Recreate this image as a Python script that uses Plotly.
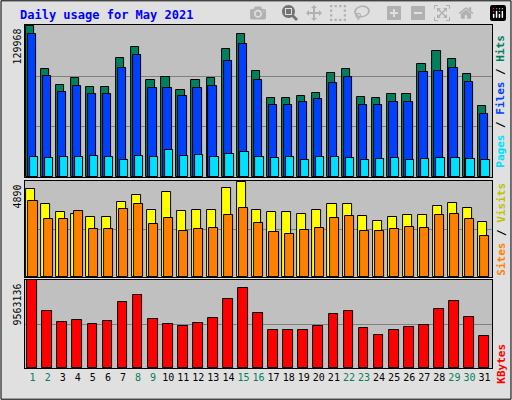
import plotly.graph_objects as go

days = list(range(1, 32))
hits = [129968, 93100, 79000, 85100, 77300, 77300, 101900, 111500, 83400, 86000, 74600, 83400, 85100, 109800, 122900, 91400, 67600, 67600, 69400, 72000, 89500, 93100, 68500, 67600, 71100, 71100, 97500, 108000, 101000, 88600, 60600]
files = [122900, 86900, 72900, 78100, 71100, 71100, 94000, 104500, 76400, 76400, 69400, 76400, 78100, 100100, 114200, 83400, 62300, 61500, 64100, 66700, 80800, 86000, 62300, 62300, 64100, 64100, 90400, 91300, 94000, 81700, 54400]
pages = [17000, 16500, 17000, 17000, 18000, 17000, 15000, 18000, 17000, 22800, 18000, 18500, 17500, 20000, 21100, 17000, 16000, 17000, 15000, 17000, 17000, 16000, 15000, 15500, 16500, 15000, 15500, 16500, 16000, 15500, 14500]
visits = [4525, 3745, 3330, 3225, 3070, 3070, 3850, 4215, 3435, 4370, 3380, 3435, 3435, 4580, 4840, 3435, 3330, 3330, 3225, 3435, 3745, 3745, 3120, 2860, 3070, 3175, 3175, 3640, 3800, 3540, 2810]
sites = [3900, 2965, 2965, 3380, 2445, 2445, 3485, 3745, 2705, 3015, 2340, 2445, 2500, 3175, 3540, 2755, 2290, 2185, 2395, 2500, 3015, 3120, 2340, 2340, 2445, 2550, 2500, 3175, 3225, 2965, 2080]
kbytes = [9563136, 6261600, 5009300, 5237000, 4781600, 5123100, 7172400, 7969300, 5350800, 4781600, 4553900, 4895400, 5464700, 7513900, 8766200, 6033900, 4098500, 4098500, 4098500, 4553900, 5920000, 6261600, 4326200, 3643100, 4098500, 4440000, 4667700, 6489300, 7286200, 5578500, 3529300]
weekend = {1, 2, 8, 9, 15, 16, 22, 23, 29, 30}

FONT = "DejaVu Sans Mono"
fig = go.Figure()

def bar(y, color, xa, ya, off, w):
    fig.add_trace(go.Bar(x=days, y=y, marker=dict(color=color, line=dict(color="black", width=1)),
                         offset=off, width=w, xaxis=xa, yaxis=ya, showlegend=False))

bar(hits, "#00805C", "x", "y", -0.45, 0.55)
bar(files, "#0040FF", "x", "y", -0.32, 0.55)
bar(pages, "#00E0FF", "x", "y", -0.2, 0.55)
bar(visits, "#FFFF00", "x2", "y2", -0.42, 0.6)
bar(sites, "#FF8000", "x2", "y2", -0.27, 0.6)
bar(kbytes, "#FF0000", "x3", "y3", -0.35, 0.65)

xd = [0.049, 0.961]
ticktext = [f"<span style='color:{'#00805C' if d in weekend else 'black'}'>{d}</span>" for d in days]

def yax(mx, dom, n):
    vals = [mx * i / n for i in range(1, n)]
    return dict(domain=dom, range=[0, mx * 1.005], tickvals=vals, showticklabels=False,
                gridcolor="#808080", showline=True, linecolor="black", mirror=True,
                zeroline=False, ticks="")

xcommon = dict(range=[0.5, 31.5], showline=True, linecolor="black", mirror=True, showgrid=False,
               tickvals=days, domain=xd, tickfont=dict(family=FONT, size=10), ticks="")

doms = [[0.5575, 0.9375], [0.3075, 0.5475], [0.08, 0.30]]
fig.update_layout(
    width=512, height=400, margin=dict(l=0, r=0, t=0, b=0),
    paper_bgcolor="#E0E0E0", plot_bgcolor="#C0C0C0", barmode="overlay", bargap=0,
    xaxis=dict(**xcommon, anchor="y", showticklabels=False),
    xaxis2=dict(**xcommon, anchor="y2", showticklabels=False),
    xaxis3=dict(**xcommon, anchor="y3", ticktext=ticktext),
    yaxis=dict(**yax(129968, doms[0], 3), anchor="x"),
    yaxis2=dict(**yax(4890, doms[1], 2), anchor="x2"),
    yaxis3=dict(**yax(9563136, doms[2], 2), anchor="x3"),
    shapes=[dict(type="rect", xref="paper", yref="paper", x0=0.002, y0=0.002, x1=0.998, y1=0.998,
                 line=dict(color="black", width=1))],
)

for mx, dom in zip([129968, 4890, 9563136], doms):
    fig.add_annotation(text=str(mx), x=0.047, y=dom[1] - 0.005, xref="paper", yref="paper", showarrow=False,
                       textangle=-90, xanchor="right", yanchor="top",
                       font=dict(family=FONT, size=10, color="black"))

def ann(text, y):
    fig.add_annotation(text=text, x=0.978, y=y, xref="paper", yref="paper", showarrow=False,
                       textangle=-90, xanchor="center", yanchor="middle",
                       font=dict(family=FONT, size=11, color="black"))

fig.add_annotation(text="<b>Daily usage for May 2021</b>", x=0.035, y=0.962, xref="paper", yref="paper",
                   showarrow=False, xanchor="left", yanchor="middle",
                   font=dict(family=FONT, size=12, color="#0000FF"))
ann("<b><span style='color:#00E0FF'>Pages</span> / <span style='color:#0040FF'>Files</span> / <span style='color:#00805C'>Hits</span></b>", 0.7475)
ann("<b><span style='color:#FF8000'>Sites</span> / <span style='color:#C0C000'>Visits</span></b>", 0.4275)
ann("<b><span style='color:#FF0000'>KBytes</span></b>", 0.09)

fig.write_html("out.html")
with open("out.html") as f:
    html = f.read()
html = html.replace("<head>", "<head><style>html,body{margin:0;padding:0;overflow:hidden}</style>", 1)
with open("out.html", "w") as f:
    f.write(html)
